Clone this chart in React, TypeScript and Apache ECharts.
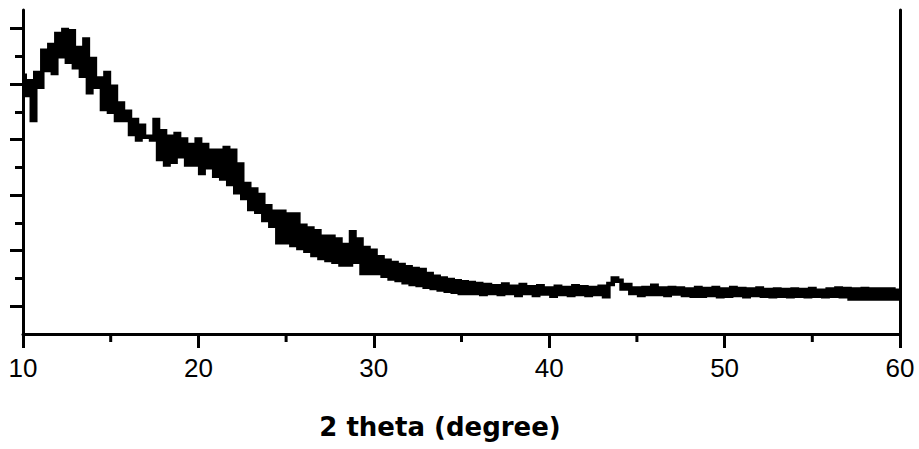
import React, { useEffect, useRef } from "react";
import * as echarts from "echarts";

// 2θ grid for the two measured segments
const seg1Start = 10.0;
const seg1Step = 0.2;
const seg1Intensity = [
  4650, 4300, 4550, 3850, 4700, 4450, 5100, 4750, 5200, 4700,
  5400, 5000, 5470, 4900, 5450, 4800, 5150, 4650, 5300, 4350,
  4950, 4450, 4600, 4050, 4700, 4000, 4450, 3850, 4150, 3850,
  4000, 3600, 3850, 3500, 3750, 3550, 3550, 3500, 3850, 3150,
  3650, 3050, 3550, 3100, 3600, 3200, 3500, 3050, 3400, 3050,
  3500, 2900, 3400, 3000, 3300, 2850, 3300, 2800, 3350, 2700,
  3300, 2550, 3050, 2450, 2700, 2250, 2600, 2200, 2500, 2050,
  2300, 1950, 2200, 1650, 2200, 1650, 2150, 1600, 2150, 1550,
  1950, 1500, 1900, 1420, 1850, 1370, 1750, 1330, 1750, 1300,
  1700, 1250, 1600, 1250, 1830, 1300, 1700, 1100, 1550, 1100,
  1500, 1100, 1380, 1050, 1320, 1000, 1280, 970, 1240, 930,
  1200, 900, 1170, 880, 1150, 850, 1080, 830, 1030, 800,
  1000, 780, 970, 760, 950, 740, 930, 740, 920, 740,
];

const seg2Start = 36.0;
const seg2Step = 0.25;
const seg2Intensity = [
  900, 720, 880, 740, 860, 720, 890, 740,
  850, 700, 880, 740, 840, 700, 860, 730,
  820, 690, 850, 720, 830, 700, 860, 720,
  840, 700, 830, 720, 850, 680, 900, 1000,
  960, 820, 880, 740, 820, 700, 830, 720,
  870, 720, 820, 700, 830, 730, 820, 700,
  800, 690, 830, 690, 810, 700, 830, 680,
  800, 690, 830, 700, 810, 680, 800, 700,
  820, 690, 790, 680, 800, 690, 790, 680,
  800, 690, 790, 680, 810, 690, 780, 680,
  800, 690, 820, 680, 810, 640, 800, 640,
  810, 640, 800, 640, 800, 640, 800, 640,
  780,
];

const xTicks = [10, 20, 30, 40, 50, 60];
const xMinorTicks = [15, 25, 35, 45, 55];
const yMajorTicks = [500, 1500, 2500, 3500, 4500, 5500];
const yMinorTicks = [1000, 2000, 3000, 4000, 5000];
const yMax = 5832;
const xTitle = "2 theta (degree)";

function buildSeries(): [number, number][] {
  const pts: [number, number][] = [];
  seg1Intensity.forEach((v, i) => pts.push([+(seg1Start + i * seg1Step).toFixed(2), v]));
  seg2Intensity.forEach((v, i) => pts.push([+(seg2Start + i * seg2Step).toFixed(2), v]));
  return pts;
}

export default function App() {
  const ref = useRef<HTMLDivElement>(null);
  useEffect(() => {
    if (!ref.current) return;
    const chart = echarts.init(ref.current, undefined, { renderer: "svg" });
    const black = "#000";
    const xMin = xTicks[0];
    const xMax = xTicks[xTicks.length - 1];
    const gridRect = { left: 23, right: 19, top: 10, bottom: 115, containLabel: false, outerBoundsMode: "none" };
    chart.setOption({
      animation: false,
      backgroundColor: "#fff",
      grid: [{ ...gridRect }, { ...gridRect }, { ...gridRect }],
      xAxis: [
        {
          gridIndex: 0,
          type: "value",
          min: xMin,
          max: xMax,
          interval: 10,
          position: "bottom",
          axisLine: { show: true, onZero: false, lineStyle: { color: black, width: 3 } },
          axisTick: { show: true, length: 14, customValues: xTicks, lineStyle: { color: black, width: 3 } },
          splitLine: { show: false },
          axisLabel: {
            show: true,
            color: black,
            fontSize: 26,
            fontFamily: "Liberation Sans, Arial, sans-serif",
            margin: 21,
            customValues: xTicks,
          },
        },
        { gridIndex: 1, type: "value", min: xMin, max: xMax, position: "bottom", show: false },
        { gridIndex: 2, type: "value", min: xMin, max: xMax, position: "bottom", show: false },
      ],
      yAxis: [
        {
          gridIndex: 0,
          type: "value",
          min: 0,
          max: yMax,
          position: "left",
          axisLine: { show: true, onZero: false, lineStyle: { color: black, width: 3 } },
          axisTick: { show: true, length: 13, customValues: yMajorTicks, lineStyle: { color: black, width: 3 } },
          axisLabel: { show: false },
          splitLine: { show: false },
        },
        {
          gridIndex: 1,
          type: "value",
          min: 0,
          max: yMax,
          position: "left",
          axisLine: { show: false, onZero: false },
          axisTick: { show: true, length: 8, customValues: yMinorTicks, lineStyle: { color: black, width: 3 } },
          axisLabel: { show: false },
          splitLine: { show: false },
        },
        {
          gridIndex: 2,
          type: "value",
          min: 0,
          max: yMax,
          position: "right",
          axisLine: { show: true, onZero: false, lineStyle: { color: black, width: 3 } },
          axisTick: { show: false },
          axisLabel: { show: false },
          splitLine: { show: false },
        },
      ],
      graphic: [
        {
          type: "text",
          x: 440,
          y: 427,
          style: {
            text: xTitle,
            fill: black,
            font: "bold 26px 'DejaVu Sans', sans-serif",
            textAlign: "center",
            textVerticalAlign: "middle",
          },
        },
      ],
      series: [
        {
          type: "line",
          xAxisIndex: 0,
          yAxisIndex: 0,
          data: buildSeries(),
          showSymbol: false,
          symbol: "none",
          step: "middle",
          lineStyle: { color: black, width: 4.5, join: "miter", cap: "butt", miterLimit: 4 },
          z: 3,
        },
        {
          type: "custom",
          xAxisIndex: 0,
          yAxisIndex: 0,
          clip: false,
          silent: true,
          data: xMinorTicks.map((v) => [v, 0]),
          renderItem: (params: any, api: any) => {
            const p = api.coord([api.value(0), api.value(1)]);
            return {
              type: "line",
              shape: { x1: p[0], y1: p[1], x2: p[0], y2: p[1] + 8 },
              style: { stroke: black, lineWidth: 3 },
            };
          },
          z: 1,
        },
      ],
    });
    return () => chart.dispose();
  }, []);
  return <div ref={ref} style={{ width: 919, height: 449, position: "absolute", left: 0, top: 0 }} />;
}
